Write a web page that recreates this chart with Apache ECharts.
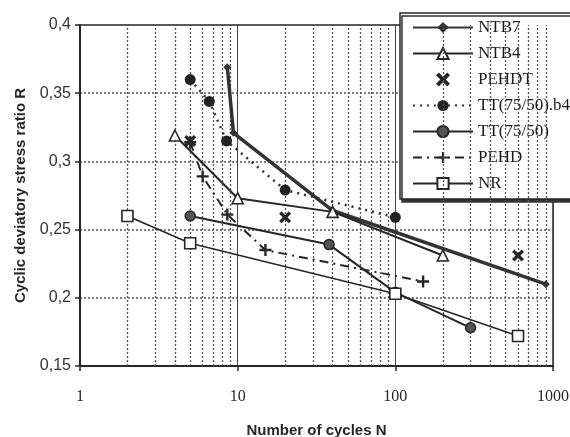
<!DOCTYPE html>
<html>
<head>
<meta charset="utf-8">
<script src="https://cdn.jsdelivr.net/npm/echarts@6/dist/echarts.min.js"></script>
<style>
  html, body { margin: 0; padding: 0; background: #fff; }
  #chart { width: 570px; height: 437px; }
</style>
</head>
<body>
<div id="chart"></div>
<script>
// Cyclic deviatory stress ratio R versus number of cycles N, per material
const seriesNames = ['NTB7', 'NTB4', 'PEHDT', 'TT(75/50).b4', 'TT(75/50)', 'PEHD', 'NR'];

const ntb7N = [8.6, 9.4, 40, 900];
const ntb7R = [0.369, 0.321, 0.264, 0.21];

const ntb4N = [4, 10, 40, 200];
const ntb4R = [0.319, 0.273, 0.263, 0.231];

const pehdtN = [5, 20, 600];
const pehdtR = [0.315, 0.259, 0.231];

const ttb4N = [5, 6.6, 8.5, 20, 100];
const ttb4R = [0.36, 0.344, 0.315, 0.279, 0.259];

const ttN = [5, 38, 100, 300];
const ttR = [0.26, 0.239, 0.204, 0.178];

const pehdN = [5, 6, 8.6, 15, 150];
const pehdR = [0.314, 0.289, 0.261, 0.235, 0.212];

const nrN = [2, 5, 100, 600];
const nrR = [0.26, 0.24, 0.203, 0.172];

// Axis ranges and grid positions
const nMin = 1, nMax = 1000;
const rMin = 0.15, rMax = 0.4, rStep = 0.05;
const minorGridN = [2, 3, 4, 5, 6, 7, 8, 9, 20, 30, 40, 50, 60, 70, 80, 90, 200, 300, 400, 500, 600, 700, 800, 900];

const pairs = (xs, ys) => xs.map((x, i) => [x, ys[i]]);

const INK = '#262626';
const crossPath = 'path://M0,2 L2,0 L5,3 L8,0 L10,2 L7,5 L10,8 L8,10 L5,7 L2,10 L0,8 L3,5 Z';
const plusPath = 'path://M4,0 L6,0 L6,4 L10,4 L10,6 L6,6 L6,10 L4,10 L4,6 L0,6 L0,4 L4,4 Z';

const chart = echarts.init(document.getElementById('chart'), null, { renderer: 'canvas' });

chart.setOption({
  animation: false,
  backgroundColor: '#fff',
  grid: {
    left: 80, right: 17, top: 25, bottom: 71,
    outerBoundsMode: 'none', containLabel: false,
    show: true, borderColor: INK, borderWidth: 1.5, backgroundColor: 'transparent'
  },
  legend: {
    data: seriesNames,
    orient: 'vertical',
    left: 400, top: 13,
    itemWidth: 60, itemHeight: 14, itemGap: 9,
    padding: [6, 40, 7, 12],
    backgroundColor: '#fff',
    borderColor: INK, borderWidth: 1.5,
    shadowColor: '#333', shadowBlur: 0, shadowOffsetX: 2, shadowOffsetY: 3,
    selectedMode: false,
    textStyle: { fontFamily: 'Liberation Serif', fontSize: 17, color: '#1a1a1a' }
  },
  xAxis: {
    type: 'log', logBase: 10, min: nMin, max: nMax,
    name: 'Number of cycles N', nameLocation: 'middle', nameGap: 57,
    nameTextStyle: { fontFamily: 'Liberation Sans', fontWeight: 'bold', fontSize: 15, color: INK },
    axisLine: { show: true, lineStyle: { color: INK, width: 2 } },
    axisTick: { show: true, length: 5, lineStyle: { color: INK, width: 1.5 } },
    axisLabel: {
      margin: 23, fontFamily: 'Liberation Serif', fontSize: 16, color: INK,
      formatter: v => String(Math.round(v))
    },
    splitLine: { show: true, lineStyle: { color: '#444', width: 1, type: 'solid' } }
  },
  yAxis: {
    type: 'value', min: rMin, max: rMax, interval: rStep,
    name: 'Cyclic deviatory stress ratio R', nameLocation: 'middle', nameGap: 52,
    nameTextStyle: { fontFamily: 'Liberation Sans', fontWeight: 'bold', fontSize: 15, color: INK },
    axisLine: { show: true, lineStyle: { color: INK, width: 2 } },
    axisTick: { show: true, length: 5, lineStyle: { color: INK, width: 1.5 } },
    axisLabel: {
      margin: 9, fontFamily: 'Liberation Sans', fontSize: 16, color: '#333',
      formatter: v => String(+v.toFixed(2)).replace('.', ',')
    },
    splitLine: { show: true, lineStyle: { color: '#555', width: 1.5, type: [2, 2] } }
  },
  series: [
    {
      // dotted minor grid lines of the log axis
      name: 'minor-grid', type: 'line', data: [], silent: true, z: 1,
      markLine: {
        silent: true, symbol: 'none', label: { show: false },
        lineStyle: { color: '#555', width: 1.3, type: [2, 2] },
        data: minorGridN.map(v => ({ xAxis: v }))
      }
    },
    {
      name: 'NTB7', type: 'line', data: pairs(ntb7N, ntb7R), z: 5,
      symbol: 'diamond', symbolSize: 8,
      lineStyle: { color: '#333', width: 3.5 },
      itemStyle: { color: '#333' }
    },
    {
      name: 'NTB4', type: 'line', data: pairs(ntb4N, ntb4R), z: 6,
      symbol: 'triangle', symbolSize: 11,
      lineStyle: { color: INK, width: 2 },
      itemStyle: { color: '#fff', borderColor: INK, borderWidth: 1.6 }
    },
    {
      name: 'PEHDT', type: 'scatter', data: pairs(pehdtN, pehdtR), z: 6,
      symbol: crossPath, symbolSize: 12,
      itemStyle: { color: INK, opacity: 1 }
    },
    {
      name: 'TT(75/50).b4', type: 'line', data: pairs(ttb4N, ttb4R), z: 5,
      symbol: 'circle', symbolSize: 11,
      lineStyle: { color: '#333', width: 2.5, type: [2, 5] },
      itemStyle: { color: '#222' }
    },
    {
      name: 'TT(75/50)', type: 'line', data: pairs(ttN, ttR), z: 5,
      symbol: 'circle', symbolSize: 10,
      lineStyle: { color: INK, width: 2 },
      itemStyle: { color: '#555', borderColor: INK, borderWidth: 1.5 }
    },
    {
      name: 'PEHD', type: 'line', data: pairs(pehdN, pehdR), z: 5,
      symbol: plusPath, symbolSize: 12,
      lineStyle: { color: INK, width: 2, type: [9, 5, 2, 5] },
      itemStyle: { color: INK }
    },
    {
      name: 'NR', type: 'line', data: pairs(nrN, nrR), z: 6,
      symbol: 'rect', symbolSize: 11,
      lineStyle: { color: INK, width: 1.6 },
      itemStyle: { color: '#fff', borderColor: INK, borderWidth: 1.6 }
    }
  ]
});
</script>
</body>
</html>
